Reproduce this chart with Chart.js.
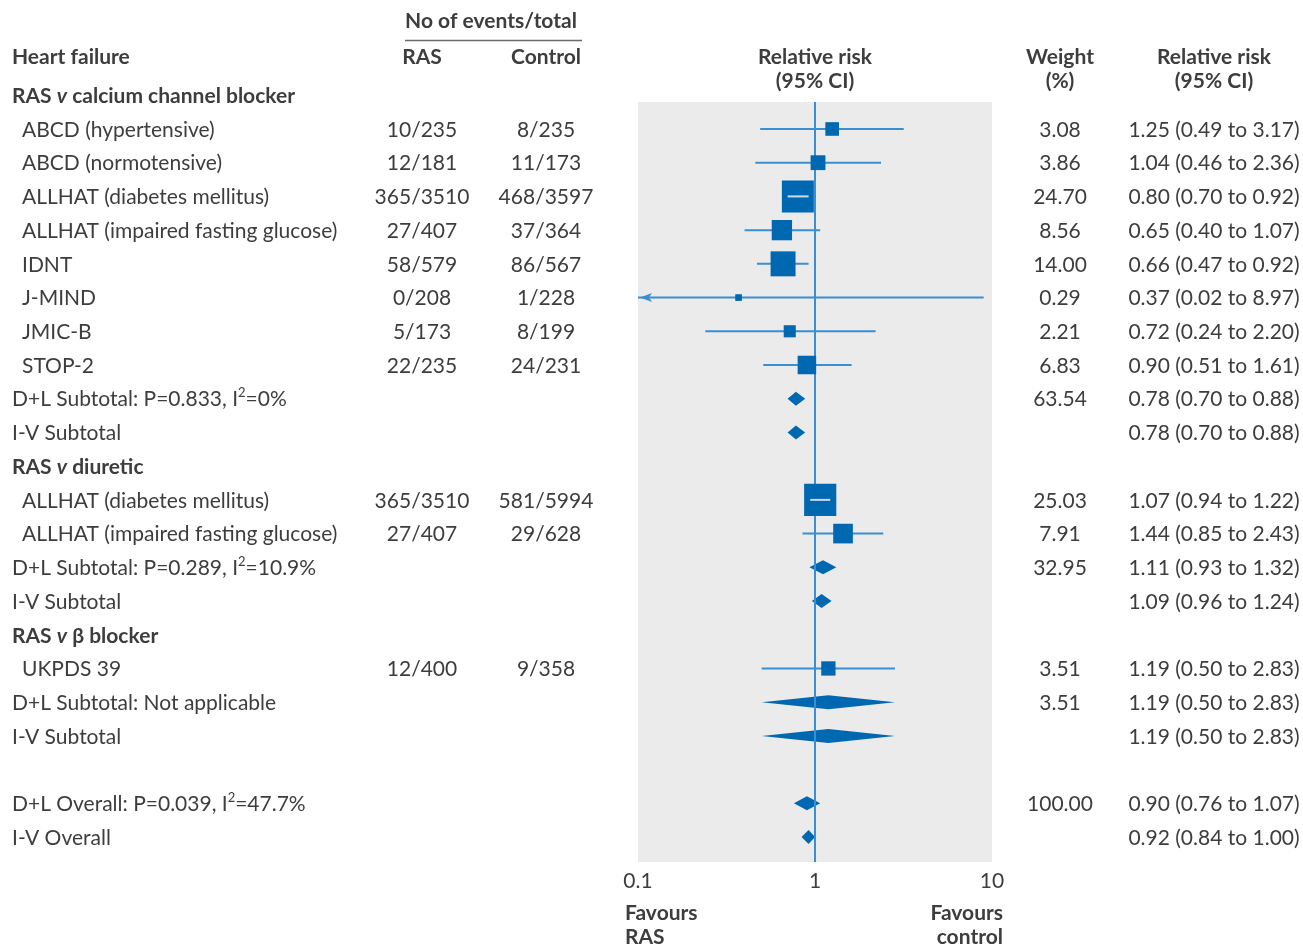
<!DOCTYPE html>
<html>
<head>
<meta charset="utf-8">
<script src="https://cdn.jsdelivr.net/npm/chart.js@4.4.1/dist/chart.umd.min.js"></script>
<style>
  html, body { margin: 0; padding: 0; background: #ffffff; }
  #wrap { width: 1303px; height: 945px; position: relative; }
</style>
</head>
<body>
<div id="wrap"><canvas id="forest" width="1303" height="945"></canvas></div>
<script>
// ---- Heart failure: RAS blockade versus other antihypertensives ----
// One entry per table row; "^2" marks a superscript, "_v_" an italic v.
const rowLabels = [
  'RAS _v_ calcium channel blocker',
  'ABCD (hypertensive)',
  'ABCD (normotensive)',
  'ALLHAT (diabetes mellitus)',
  'ALLHAT (impaired fasting glucose)',
  'IDNT',
  'J-MIND',
  'JMIC-B',
  'STOP-2',
  'D+L Subtotal: P=0.833, I^2=0%',
  'I-V Subtotal',
  'RAS _v_ diuretic',
  'ALLHAT (diabetes mellitus)',
  'ALLHAT (impaired fasting glucose)',
  'D+L Subtotal: P=0.289, I^2=10.9%',
  'I-V Subtotal',
  'RAS _v_ β blocker',
  'UKPDS 39',
  'D+L Subtotal: Not applicable',
  'I-V Subtotal',
  '',
  'D+L Overall: P=0.039, I^2=47.7%',
  'I-V Overall'
];
const rowKinds = [
  'group', 'study', 'study', 'study', 'study', 'study', 'study', 'study', 'study', 'pooled', 'pooled',
  'group', 'study', 'study', 'pooled', 'pooled',
  'group', 'study', 'pooled', 'pooled',
  'blank', 'pooled', 'pooled'
];
const rasEvents = [
  null, '10/235', '12/181', '365/3510', '27/407', '58/579', '0/208', '5/173', '22/235', null, null,
  null, '365/3510', '27/407', null, null,
  null, '12/400', null, null,
  null, null, null
];
const controlEvents = [
  null, '8/235', '11/173', '468/3597', '37/364', '86/567', '1/228', '8/199', '24/231', null, null,
  null, '581/5994', '29/628', null, null,
  null, '9/358', null, null,
  null, null, null
];
const weights = [
  null, 3.08, 3.86, 24.70, 8.56, 14.00, 0.29, 2.21, 6.83, 63.54, null,
  null, 25.03, 7.91, 32.95, null,
  null, 3.51, 3.51, null,
  null, 100.00, null
];
const relRisk = [
  null, 1.25, 1.04, 0.80, 0.65, 0.66, 0.37, 0.72, 0.90, 0.78, 0.78,
  null, 1.07, 1.44, 1.11, 1.09,
  null, 1.19, 1.19, 1.19,
  null, 0.90, 0.92
];
const ciLower = [
  null, 0.49, 0.46, 0.70, 0.40, 0.47, 0.02, 0.24, 0.51, 0.70, 0.70,
  null, 0.94, 0.85, 0.93, 0.96,
  null, 0.50, 0.50, 0.50,
  null, 0.76, 0.84
];
const ciUpper = [
  null, 3.17, 2.36, 0.92, 1.07, 0.92, 8.97, 2.20, 1.61, 0.88, 0.88,
  null, 1.22, 2.43, 1.32, 1.24,
  null, 2.83, 2.83, 2.83,
  null, 1.07, 1.00
];
const xTickValues = [0.1, 1, 10];
const xTickLabels = ['0.1', '1', '10'];

// ---- look ----
const FONT = 'Lato, "Open Sans", sans-serif';
const FS = 21;
const TEXT = '#3d3d3d';
const BOX = '#0067b1';
const LINE = '#3a8ed2';
const PANEL = '#ebebeb';
const X_MIN = 0.1, X_MAX = 10;
const DY = 1; // text baseline nudge

// Box side grows with the square root of the study weight
function boxSide(w) { return 3.6 + 5.71 * Math.sqrt(w); }

const studyRows = rowKinds.map((k, i) => k === 'study' ? i : -1).filter(i => i >= 0);
const pooledRows = rowKinds.map((k, i) => k === 'pooled' ? i : -1).filter(i => i >= 0);

// Confidence interval segments, separated by gaps
const ciData = [];
studyRows.forEach(i => {
  ciData.push({ x: Math.max(ciLower[i], X_MIN), y: i });
  ciData.push({ x: Math.min(ciUpper[i], X_MAX), y: i });
  ciData.push({ x: null, y: null });
});
const boxData = studyRows.map(i => ({ x: relRisk[i], y: i, w: weights[i] }));

// ---- text helpers ----
function parseRich(str, bold) {
  const segs = [];
  const re = /(\^\d|_v_)/g;
  let last = 0, m;
  while ((m = re.exec(str)) !== null) {
    if (m.index > last) segs.push({ t: str.slice(last, m.index), bold });
    if (m[0] === '_v_') segs.push({ t: 'v', bold, italic: true });
    else segs.push({ t: m[0].slice(1), bold, sup: true });
    last = m.index + m[0].length;
  }
  if (last < str.length) segs.push({ t: str.slice(last), bold });
  return segs;
}
function segFont(s) {
  const size = s.sup ? Math.round(FS * 0.62) : FS;
  return (s.italic ? 'italic ' : '') + (s.bold ? '700 ' : '400 ') + size + 'px ' + FONT;
}
function drawRich(ctx, segs, x, y, align) {
  let total = 0;
  segs.forEach(s => { ctx.font = segFont(s); total += ctx.measureText(s.t).width; });
  let cx = align === 'center' ? x - total / 2 : align === 'right' ? x - total : x;
  ctx.textAlign = 'left';
  ctx.textBaseline = 'middle';
  segs.forEach(s => {
    ctx.font = segFont(s);
    ctx.fillText(s.t, cx, (s.sup ? y - FS * 0.32 : y) + DY);
    cx += ctx.measureText(s.t).width;
  });
}
function text(ctx, str, x, y, align, bold) {
  drawRich(ctx, [{ t: str, bold: !!bold }], x, y, align);
}

// ---- plugin: panel, diamonds, reference line, table text ----
const forestPlugin = {
  id: 'forest',
  beforeDraw(chart) {
    const { ctx, chartArea: a } = chart;
    ctx.save();
    ctx.fillStyle = PANEL;
    ctx.fillRect(a.left, a.top, a.right - a.left, a.bottom - a.top);
    ctx.restore();
  },
  beforeDatasetsDraw(chart) {
    const { ctx, chartArea: a, scales: { x, y } } = chart;
    ctx.save();
    // pooled estimates as diamonds
    ctx.fillStyle = BOX;
    pooledRows.forEach(i => {
      const py = y.getPixelForValue(i);
      const xl = x.getPixelForValue(ciLower[i]);
      const xm = x.getPixelForValue(relRisk[i]);
      const xr = x.getPixelForValue(ciUpper[i]);
      ctx.beginPath();
      ctx.moveTo(xl, py);
      ctx.lineTo(xm, py - 7);
      ctx.lineTo(xr, py);
      ctx.lineTo(xm, py + 7);
      ctx.closePath();
      ctx.fill();
    });
    // line of no effect
    const x1 = x.getPixelForValue(1);
    ctx.strokeStyle = LINE;
    ctx.lineWidth = 2;
    ctx.beginPath();
    ctx.moveTo(x1, a.top);
    ctx.lineTo(x1, a.bottom);
    ctx.stroke();
    ctx.restore();
  },
  afterDatasetsDraw(chart) {
    const { ctx, scales: { x, y } } = chart;
    ctx.save();
    studyRows.forEach(i => {
      const py = y.getPixelForValue(i);
      const xm = x.getPixelForValue(relRisk[i]);
      const half = boxSide(weights[i]) / 2;
      if (ciLower[i] >= X_MIN) {
        // interval hidden inside its own box is redrawn in a pale tone
        const xl = x.getPixelForValue(ciLower[i]);
        const xr = x.getPixelForValue(ciUpper[i]);
        if (xl > xm - half && xr < xm + half) {
          ctx.strokeStyle = '#c9dcee';
          ctx.lineWidth = 2;
          ctx.beginPath();
          ctx.moveTo(xl, py);
          ctx.lineTo(xr, py);
          ctx.stroke();
        }
      } else {
        // interval runs past the axis: arrow head
        const xa = x.getPixelForValue(X_MIN) + 2;
        ctx.fillStyle = LINE;
        ctx.beginPath();
        ctx.moveTo(xa, py);
        ctx.lineTo(xa + 12, py - 4.5);
        ctx.lineTo(xa + 9, py);
        ctx.lineTo(xa + 12, py + 4.5);
        ctx.closePath();
        ctx.fill();
      }
    });
    ctx.restore();

    // table text
    ctx.save();
    ctx.fillStyle = TEXT;
    text(ctx, 'No of events/total', 491, 20, 'center', true);
    ctx.strokeStyle = '#6a6a6a';
    ctx.lineWidth = 1.5;
    ctx.beginPath();
    ctx.moveTo(405, 40.5);
    ctx.lineTo(582, 40.5);
    ctx.stroke();
    text(ctx, 'Heart failure', 12, 56, 'left', true);
    text(ctx, 'RAS', 422, 56, 'center', true);
    text(ctx, 'Control', 546, 56, 'center', true);
    const xc = x.getPixelForValue(1);
    text(ctx, 'Relative risk', xc, 56, 'center', true);
    text(ctx, '(95% CI)', xc, 80, 'center', true);
    text(ctx, 'Weight', 1060, 56, 'center', true);
    text(ctx, '(%)', 1060, 80, 'center', true);
    text(ctx, 'Relative risk', 1214, 56, 'center', true);
    text(ctx, '(95% CI)', 1214, 80, 'center', true);

    rowLabels.forEach((lab, i) => {
      const py = y.getPixelForValue(i);
      const kind = rowKinds[i];
      if (lab) {
        const segs = parseRich(lab, kind === 'group');
        drawRich(ctx, segs, kind === 'study' ? 22 : 12, py, 'left');
      }
      if (rasEvents[i]) text(ctx, rasEvents[i], 422, py, 'center');
      if (controlEvents[i]) text(ctx, controlEvents[i], 546, py, 'center');
      if (weights[i] != null) text(ctx, weights[i].toFixed(2), 1060, py, 'center');
      if (relRisk[i] != null) {
        const s = relRisk[i].toFixed(2) + ' (' + ciLower[i].toFixed(2) + ' to ' + ciUpper[i].toFixed(2) + ')';
        text(ctx, s, 1214, py, 'center');
      }
    });

    // direction of effect
    const xl = x.getPixelForValue(X_MIN);
    const xr = x.getPixelForValue(X_MAX);
    text(ctx, 'Favours', xl - 13, 912, 'left', true);
    text(ctx, 'RAS', xl - 13, 936, 'left', true);
    text(ctx, 'Favours', xr + 11, 912, 'right', true);
    text(ctx, 'control', xr + 11, 936, 'right', true);
    ctx.restore();
  }
};

new Chart(document.getElementById('forest'), {
  type: 'scatter',
  data: {
    datasets: [
      {
        label: 'Study estimate',
        data: boxData,
        pointStyle: 'rect',
        pointRadius: c => (c.raw ? boxSide(c.raw.w) / Math.SQRT2 : 0),
        pointHoverRadius: c => (c.raw ? boxSide(c.raw.w) / Math.SQRT2 : 0),
        backgroundColor: BOX,
        borderWidth: 0,
        pointBorderWidth: 0,
        showLine: false,
        order: 0
      },
      {
        label: '95% CI',
        data: ciData,
        showLine: true,
        spanGaps: false,
        borderColor: LINE,
        borderWidth: 2,
        pointRadius: 0,
        pointHoverRadius: 0,
        order: 1
      }
    ]
  },
  options: {
    responsive: false,
    animation: false,
    events: [],
    layout: { padding: { left: 638, right: 311, top: 102, bottom: 53 } },
    plugins: { legend: { display: false }, tooltip: { enabled: false } },
    scales: {
      x: {
        type: 'logarithmic',
        min: X_MIN,
        max: X_MAX,
        afterBuildTicks: s => { s.ticks = xTickValues.map(v => ({ value: v })); },
        afterFit: s => { s.height = 30; },
        grid: { display: false, drawTicks: false },
        border: { display: false },
        ticks: {
          autoSkip: false,
          maxRotation: 0,
          padding: 7,
          color: TEXT,
          font: { family: FONT, size: FS },
          callback: (v) => {
            const k = xTickValues.indexOf(v);
            return k >= 0 ? xTickLabels[k] : '';
          }
        }
      },
      y: {
        type: 'linear',
        reverse: true,
        min: 0.2,
        max: 22.74,
        display: false
      }
    }
  },
  plugins: [forestPlugin]
});
</script>
</body>
</html>
